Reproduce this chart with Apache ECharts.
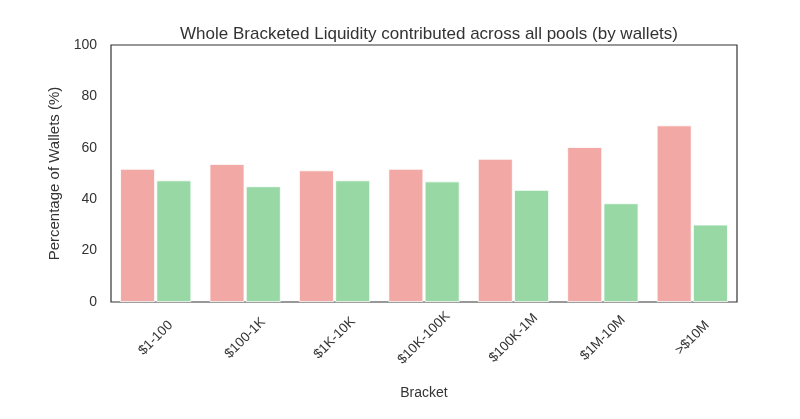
<!DOCTYPE html>
<html>
<head>
<meta charset="utf-8">
<script src="https://cdn.jsdelivr.net/npm/echarts@6/dist/echarts.min.js"></script>
<style>html,body{margin:0;padding:0;background:#fff;}#c{width:800px;height:419px;}</style>
</head>
<body>
<div id="c"></div>
<script>
const categories = ['$1-100', '$100-1K', '$1K-10K', '$10K-100K', '$100K-1M', '$1M-10M', '>$10M'];
const redValues = [51.8, 53.7, 51.2, 51.8, 55.7, 60.3, 68.7];
const greenValues = [47.3, 45.0, 47.3, 46.9, 43.6, 38.4, 30.1];
const yTicks = [0, 20, 40, 60, 80, 100];

const FONT = '"Liberation Sans", Arial, sans-serif';
const TXT = '#333333';
const chart = echarts.init(document.getElementById('c'), null, {renderer: 'canvas'});
chart.setOption({
  animation: false,
  backgroundColor: '#ffffff',
  title: {
    text: 'Whole Bracketed Liquidity contributed across all pools (by wallets)',
    left: 424, top: 21, textAlign: 'center',
    textStyle: {fontFamily: FONT, fontSize: 17, fontWeight: 'normal', color: TXT}
  },
  grid: {left: 111, right: 63, top: 45, bottom: 117, show: true, borderColor: '#333333', borderWidth: 1.2, backgroundColor: 'transparent'},
  xAxis: {
    type: 'category',
    data: categories,
    name: 'Bracket', nameLocation: 'middle', nameGap: 84,
    nameTextStyle: {fontFamily: FONT, fontSize: 14, color: TXT},
    axisLine: {show: false}, axisTick: {show: false},
    axisLabel: {rotate: 45, align: 'center', verticalAlign: 'middle', margin: 36, interval: 0,
      fontFamily: FONT, fontSize: 13.5, color: TXT}
  },
  yAxis: {
    type: 'value', min: 0, max: 100, interval: 20,
    name: 'Percentage of Wallets (%)', nameLocation: 'middle', nameGap: 46,
    nameTextStyle: {fontFamily: FONT, fontSize: 15, color: TXT},
    axisLine: {show: false}, axisTick: {show: false}, splitLine: {show: false},
    axisLabel: {margin: 14, fontFamily: FONT, fontSize: 14, color: TXT,
      formatter: v => yTicks.includes(v) ? String(v) : ''}
  },
  series: [
    {type: 'bar', data: redValues, barWidth: '39%', barGap: '4%',
      itemStyle: {color: '#f2a9a5', borderColor: '#ffffff', borderWidth: 0.8}},
    {type: 'bar', data: greenValues, barWidth: '39%',
      itemStyle: {color: '#97d8a5', borderColor: '#ffffff', borderWidth: 0.8}}
  ]
});
</script>
</body>
</html>
